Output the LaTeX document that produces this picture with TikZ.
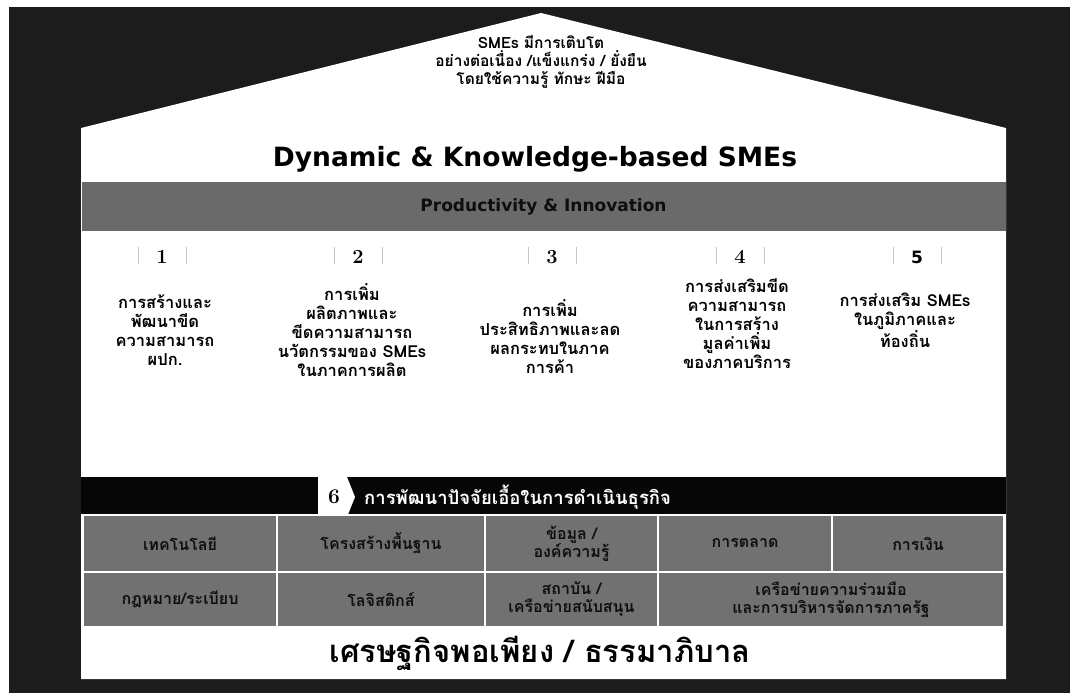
\documentclass[tikz,border=0pt]{standalone}
\usepackage{fontspec}
\newfontfamily\thai[Script=Thai]{Loma}
\newfontfamily\headfont{DejaVu Sans}
\definecolor{bgdark}{HTML}{1C1C1C}
\definecolor{bandgray}{HTML}{6A6A6A}
\definecolor{gridgray}{HTML}{717171}
\definecolor{bandblack}{HTML}{060606}
\definecolor{inkdark}{HTML}{0E0E0E}
\tikzset{
  pillartext/.style={align=center, font=\thai\bfseries\fontsize{16.5}{19}\selectfont, inner sep=0pt},
  pillarnum/.style={font=\bfseries\fontsize{20}{20}\selectfont, inner sep=0pt},
  pillarmark/.style={gray!45, line width=0.9pt},
  cell/.style={draw=white, line width=1.6pt, fill=gridgray, inner sep=0pt, outer sep=0pt,
    align=center, font=\thai\bfseries\fontsize{16}{18}\selectfont, text=inkdark},
}
\begin{document}
\begin{tikzpicture}[x=1pt,y=-1pt]
\useasboundingbox (0,0) rectangle (1070,693);
% paper and dark surround
\fill[white] (0,0) rectangle (1070,693);
\fill[bgdark] (9,7) rectangle (1070,693);
% house body with roof
\fill[white] (81,128) -- (541,13) -- (1006,128) -- (1006,679) -- (81,679) -- cycle;

% roof texts
\node[align=center, font=\thai\bfseries\fontsize{15.5}{18}\selectfont, inner sep=0pt] (goal) at (541,62)
  {SMEs มีการเติบโต\\อย่างต่อเนื่อง /แข็งแกร่ง / ยั่งยืน\\โดยใช้ความรู้ ทักษะ ฝีมือ};
\node[font=\headfont\bfseries\fontsize{26.5}{26.5}\selectfont, inner sep=0pt] (title) at (535,159)
  {Dynamic \& Knowledge-based SMEs};

% grey banner
\node[fill=bandgray, minimum width=924pt, minimum height=49pt, inner sep=0pt,
  font=\headfont\bfseries\fontsize{17}{17}\selectfont, text=inkdark] (banner) at (543.5,206.5)
  {Productivity \& Innovation};

% pillar numbers
\foreach \n/\x in {1/162,2/358,3/552,4/740} {
  \node[pillarnum] (num\n) at (\x,257) {\n};
  \draw[pillarmark] (\x-24,247) -- (\x-24,264) (\x+24,247) -- (\x+24,264);
}
\node[pillarnum, font=\headfont\bfseries\fontsize{17}{17}\selectfont] (num5) at (917,257) {5};
\draw[pillarmark] (893,247) -- (893,264) (941,247) -- (941,264);

% pillar texts
\node[pillartext] (p1) at (165,330) {การสร้างและ\\พัฒนาขีด\\ความสามารถ\\ผปก.};
\node[pillartext] (p2) at (352,330) {การเพิ่ม\\ผลิตภาพและ\\ขีดความสามารถ\\นวัตกรรมของ SMEs\\ในภาคการผลิต};
\node[pillartext] (p3) at (550,337) {การเพิ่ม\\ประสิทธิภาพและลด\\ผลกระทบในภาค\\การค้า};
\node[pillartext] (p4) at (737,324) {การส่งเสริมขีด\\ความสามารถ\\ในการสร้าง\\มูลค่าเพิ่ม\\ของภาคบริการ};
\node[pillartext] (p5) at (905,320) {การส่งเสริม SMEs\\ในภูมิภาคและ\\ท้องถิ่น};

% enabling factors band
\fill[bandblack] (81,477) rectangle (1006,514);
\fill[white] (318,472) -- (345,472) -- (355,497) -- (345,522) -- (318,522) -- cycle;
\node[pillarnum, font=\bfseries\fontsize{21}{21}\selectfont] (num6) at (334,497) {6};
\node[anchor=west, font=\thai\bfseries\fontsize{18.5}{18.5}\selectfont, text=white, inner sep=0pt] (p6) at (364,497)
  {การพัฒนาปัจจัยเอื้อในการดำเนินธุรกิจ};

% factor grid, first row
\node[cell, minimum width=194pt, minimum height=57pt] (c11) at (180,543.5) {เทคโนโลยี};
\node[cell, minimum width=208pt, minimum height=57pt] (c12) at (381,543.5) {โครงสร้างพื้นฐาน};
\node[cell, minimum width=173pt, minimum height=57pt] (c13) at (571.5,543.5) {ข้อมูล /\\องค์ความรู้};
\node[cell, minimum width=174pt, minimum height=57pt] (c14) at (745,543.5) {การตลาด};
\node[cell, minimum width=172pt, minimum height=57pt] (c15) at (918,543.5) {การเงิน};
% factor grid, second row
\node[cell, minimum width=194pt, minimum height=55pt] (c21) at (180,599.5) {กฎหมาย/ระเบียบ};
\node[cell, minimum width=208pt, minimum height=55pt] (c22) at (381,599.5) {โลจิสติกส์};
\node[cell, minimum width=173pt, minimum height=55pt] (c23) at (571.5,599.5) {สถาบัน /\\เครือข่ายสนับสนุน};
\node[cell, minimum width=346pt, minimum height=55pt] (c24) at (831,599.5) {เครือข่ายความร่วมมือ\\และการบริหารจัดการภาครัฐ};

% foundation
\node[font=\thai\bfseries\fontsize{31}{31}\selectfont, inner sep=0pt] (base) at (540,653)
  {เศรษฐกิจพอเพียง / ธรรมาภิบาล};
\end{tikzpicture}
\end{document}
